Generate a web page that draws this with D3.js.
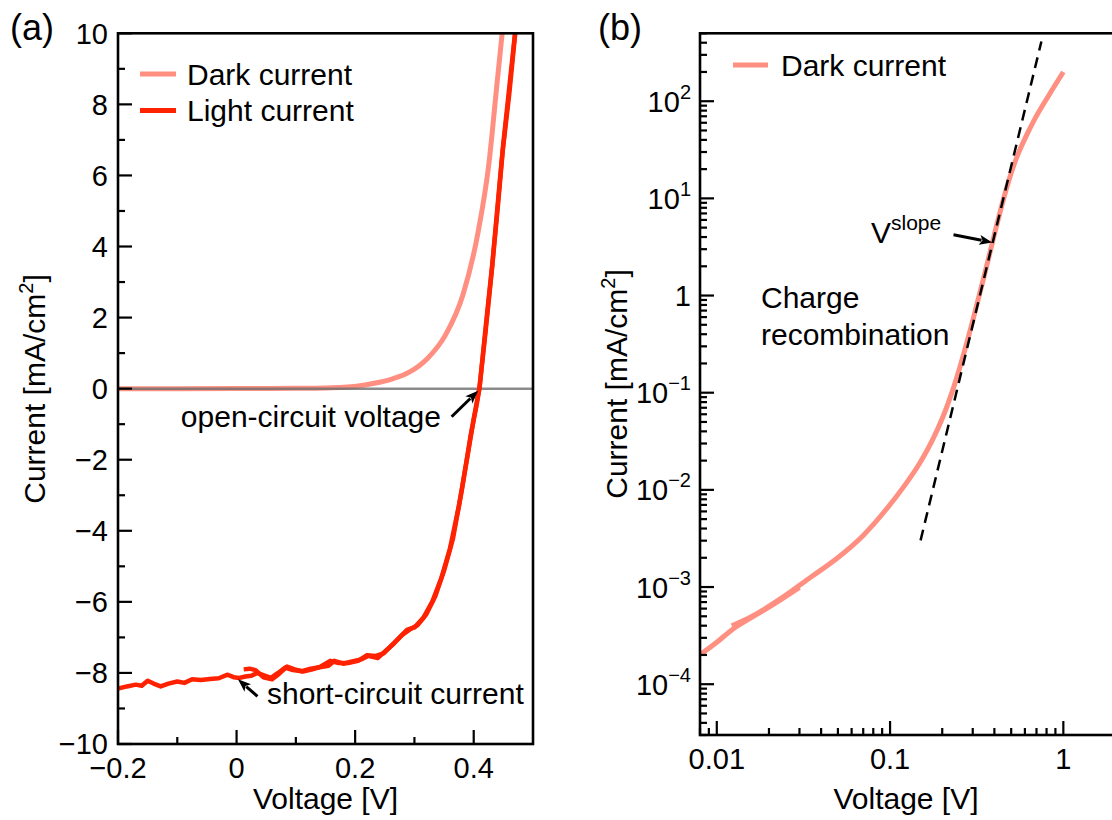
<!DOCTYPE html>
<html><head><meta charset="utf-8">
<script src="https://cdn.jsdelivr.net/npm/d3@7"></script>
<style>
body{margin:0;background:#fff}
text{font-family:"Liberation Sans",Arial,Helvetica,sans-serif;fill:#000}
</style>
</head><body>
<svg id="chart" width="1112" height="820"></svg>
<script>
// ---------------- data ----------------
// panel (a): linear J-V
const darkA = [[-0.2,0],[-0.1,0],[0,0.001],[0.05,0.003],[0.1,0.008],[0.15,0.02],[0.18,0.04],[0.202,0.07],[0.232,0.15],[0.262,0.27],[0.292,0.47],[0.322,0.85],[0.352,1.5],[0.382,2.65],[0.407,4.37],[0.425,6.25],[0.440,8.7],[0.448,10.0],[0.455,11.2]];
const lightA1 = [[-0.200,-8.44],[-0.185,-8.38],[-0.170,-8.33],[-0.160,-8.36],[-0.150,-8.22],[-0.140,-8.30],[-0.128,-8.38],[-0.115,-8.30],[-0.100,-8.24],[-0.088,-8.28],[-0.075,-8.18],[-0.060,-8.20],[-0.045,-8.17],[-0.030,-8.15],[-0.015,-8.05],[-0.005,-8.12],[0.005,-8.14],[0.015,-8.10],[0.025,-8.08],[0.035,-8.00],[0.045,-8.06],[0.058,-8.14],[0.070,-8.00],[0.082,-7.85],[0.095,-7.92],[0.110,-7.95],[0.125,-7.88],[0.140,-7.84],[0.155,-7.80],[0.165,-7.66],[0.180,-7.74],[0.195,-7.68],[0.210,-7.62],[0.222,-7.52],[0.238,-7.58],[0.250,-7.40],[0.265,-7.18],[0.280,-6.92],[0.292,-6.78],[0.305,-6.66],[0.320,-6.35],[0.335,-5.85],[0.350,-5.12],[0.365,-4.22],[0.380,-2.85],[0.395,-1.30],[0.405,-0.45],[0.4095,0],[0.420,1.6],[0.431,3.4],[0.440,5.0],[0.449,6.7],[0.460,8.3],[0.470,10.0],[0.476,11.0]];
const lightA2 = [[0.012,-7.90],[0.022,-7.88],[0.032,-7.92],[0.045,-8.12],[0.060,-8.18],[0.072,-8.02],[0.085,-7.82],[0.098,-7.90],[0.112,-7.96],[0.128,-7.90],[0.142,-7.82],[0.158,-7.66],[0.172,-7.72],[0.188,-7.72],[0.205,-7.66],[0.220,-7.50],[0.235,-7.52],[0.248,-7.45],[0.262,-7.22],[0.275,-7.00],[0.288,-6.78],[0.300,-6.72],[0.315,-6.45],[0.330,-6.00],[0.345,-5.35],[0.360,-4.50],[0.375,-3.30],[0.390,-1.85],[0.400,-0.85],[0.410,0.05],[0.420,1.7],[0.431,3.45],[0.449,6.75],[0.470,10.05],[0.476,11.0]];
// panel (b): log-log dark current (two sweeps)
const darkB1 = [[0.00806,2.03e-4],[0.0100,2.7e-4],[0.0122,3.62e-4],[0.016,4.9e-4],[0.020,6.2e-4],[0.030,9.9e-4]];
const darkB2 = [[0.0122,3.98e-4],[0.016,5.0e-4],[0.02455,8.05e-4],[0.035,1.27e-3],[0.0482,1.91e-3],[0.070,3.4e-3],[0.0946,6.24e-3],[0.120,1.08e-2],[0.1482,0.0188],[0.175,0.0321],[0.200,0.0542],[0.217,0.0791],[0.243,0.1445],[0.260,0.217],[0.300,0.552],[0.350,1.61],[0.400,4.25],[0.4554,10.4],[0.4984,17.9],[0.545,28.0],[0.610,43.7],[0.6825,65],[0.817,112],[1.0,200]];
const slopeFit = [[0.150,3.02e-3],[0.747,412]];
// ticks
const xTicksA = [-0.2,0,0.2,0.4];
const xTickLabelsA = ["\u22120.2","0","0.2","0.4"];
const xMinorA = [-0.1,0.1,0.3];
const yTicksA = [-10,-8,-6,-4,-2,0,2,4,6,8,10];
const yTickLabelsA = ["\u221210","\u22128","\u22126","\u22124","\u22122","0","2","4","6","8","10"];
const yMinorA = [-9,-7,-5,-3,-1,1,3,5,7,9];
const xTicksB = [0.01,0.1,1];
const xTickLabelsB = ["0.01","0.1","1"];
const yTicksB = [1e-4,1e-3,1e-2,1e-1,1,1e1,1e2];
const yTickBaseB = ["10","10","10","10","1","10","10"];
const yTickExpB = ["\u22124","\u22123","\u22122","\u22121","","1","2"];
const seriesNames = ["Dark current","Light current"];

// ---------------- layout ----------------
const darkColor = "#ff8f80", lightColor = "#ff2200";
const FS = 29, FT = 30;
const svg = d3.select("#chart");

const xA = d3.scaleLinear().domain([-0.2,0.5]).range([118,533]);
const yA = d3.scaleLinear().domain([-10,10]).range([744,33.3]);
const xB = d3.scaleLog().domain([0.008,2]).range([700,1115.5]);
const yB = d3.scaleLog().domain([3e-5,500]).range([735,33.3]);

const defs = svg.append("defs");
defs.append("clipPath").attr("id","clipA").append("rect")
  .attr("x",xA.range()[0]).attr("y",yA.range()[1]).attr("width",xA.range()[1]-xA.range()[0]).attr("height",yA.range()[0]-yA.range()[1]);
defs.append("clipPath").attr("id","clipB").append("rect")
  .attr("x",xB.range()[0]).attr("y",yB.range()[1]).attr("width",xB.range()[1]-xB.range()[0]).attr("height",yB.range()[0]-yB.range()[1]);

function arrow(g, x1,y1,x2,y2){
  const a = Math.atan2(y2-y1,x2-x1), L=13, hw=5;
  const bx = x2-L*Math.cos(a), by = y2-L*Math.sin(a);
  g.append("line").attr("x1",x1).attr("y1",y1).attr("x2",bx+2*Math.cos(a)).attr("y2",by+2*Math.sin(a))
    .attr("stroke","#000").attr("stroke-width",3);
  const p = [[bx+hw*Math.sin(a), by-hw*Math.cos(a)],[x2,y2],[bx-hw*Math.sin(a), by+hw*Math.cos(a)],[bx+3*Math.cos(a),by+3*Math.sin(a)]];
  g.append("path").attr("d",d3.line()(p)+"Z").attr("fill","#000");
}

// ================= panel (a) =================
const gA = svg.append("g");
const plotA = gA.append("g").attr("clip-path","url(#clipA)");
plotA.append("path").datum(darkA).attr("d",d3.line().x(d=>xA(d[0])).y(d=>yA(d[1])).curve(d3.curveMonotoneX))
  .attr("fill","none").attr("stroke",darkColor).attr("stroke-width",5);
plotA.append("line").attr("x1",xA(-0.2)).attr("x2",xA(0.5)).attr("y1",yA(0)).attr("y2",yA(0))
  .attr("stroke","#6e6e6e").attr("stroke-opacity",0.8).attr("stroke-width",2.5);
const lineAL = d3.line().x(d=>xA(d[0])).y(d=>yA(d[1]));
[lightA1,lightA2].forEach(s=>plotA.append("path").datum(s).attr("d",lineAL)
  .attr("fill","none").attr("stroke",lightColor).attr("stroke-width",4.5).attr("stroke-linejoin","round"));

// ticks
const tkA = gA.append("g").attr("stroke","#000").attr("stroke-width",2.2);
xTicksA.forEach(v=>tkA.append("line").attr("x1",xA(v)).attr("x2",xA(v)).attr("y1",yA(-10)).attr("y2",yA(-10)-14));
xMinorA.forEach(v=>tkA.append("line").attr("x1",xA(v)).attr("x2",xA(v)).attr("y1",yA(-10)).attr("y2",yA(-10)-7));
yTicksA.forEach(v=>tkA.append("line").attr("y1",yA(v)).attr("y2",yA(v)).attr("x1",xA(-0.2)).attr("x2",xA(-0.2)+14));
yMinorA.forEach(v=>tkA.append("line").attr("y1",yA(v)).attr("y2",yA(v)).attr("x1",xA(-0.2)).attr("x2",xA(-0.2)+7));
gA.append("rect").attr("x",xA(-0.2)).attr("y",yA(10)).attr("width",xA(0.5)-xA(-0.2)).attr("height",yA(-10)-yA(10))
  .attr("fill","none").attr("stroke","#000").attr("stroke-width",2.6);
xTicksA.forEach((v,i)=>gA.append("text").attr("x",xA(v)).attr("y",yA(-10)+34).attr("text-anchor","middle").attr("font-size",FS).text(xTickLabelsA[i]));
yTicksA.forEach((v,i)=>gA.append("text").attr("x",xA(-0.2)-10).attr("y",yA(v)).attr("dy","0.36em").attr("text-anchor","end").attr("font-size",FS).text(yTickLabelsA[i]));

gA.append("text").attr("x",(xA.range()[0]+xA.range()[1])/2).attr("y",809).attr("text-anchor","middle").attr("font-size",FT).text("Voltage [V]");
function yTitle(g,x,y){
  const t = g.append("text").attr("transform",`translate(${x},${y}) rotate(-90)`).attr("text-anchor","middle").attr("font-size",FT);
  t.append("tspan").text("Current [mA/cm");
  t.append("tspan").attr("font-size",20).attr("dy",-12).text("2");
  t.append("tspan").attr("dy",12).text("]");
}
yTitle(gA,45,389);
gA.append("text").attr("x",10).attr("y",40).attr("font-size",36).text("(a)");

// legend (a)
[darkColor,lightColor].forEach((c,i)=>{
  const yy = 74 + i*36.5;
  gA.append("line").attr("x1",140).attr("x2",176).attr("y1",yy).attr("y2",yy).attr("stroke",c).attr("stroke-width",5);
  gA.append("text").attr("x",187).attr("y",yy).attr("dy","0.36em").attr("font-size",FT).text(seriesNames[i]);
});
// annotations (a)
gA.append("text").attr("x",441).attr("y",427).attr("text-anchor","end").attr("font-size",FT).text("open-circuit voltage");
arrow(gA, xA(0.3627), yA(-0.79), xA(0.4075), yA(-0.06));
gA.append("text").attr("x",267).attr("y",704).attr("font-size",FT).text("short-circuit current");
arrow(gA, xA(0.0352), yA(-8.66), xA(0.0024), yA(-8.18));

// ================= panel (b) =================
const gB = svg.append("g");
const plotB = gB.append("g").attr("clip-path","url(#clipB)");
const lineB = d3.line().x(d=>xB(d[0])).y(d=>yB(d[1])).curve(d3.curveMonotoneX);
[darkB1,darkB2].forEach(s=>plotB.append("path").datum(s).attr("d",lineB)
  .attr("fill","none").attr("stroke",darkColor).attr("stroke-width",5));
plotB.append("path").datum(slopeFit).attr("d",d3.line().x(d=>xB(d[0])).y(d=>yB(d[1])))
  .attr("fill","none").attr("stroke","#000").attr("stroke-width",2.5).attr("stroke-dasharray","11,7");

const tkB = gB.append("g").attr("stroke","#000").attr("stroke-width",2.2);
const [bx0,bx1] = xB.domain(), [by0,by1] = yB.domain();
for(let e=-3;e<=1;e++) for(let m=1;m<=9;m++){
  const v = m*Math.pow(10,e);
  if(v<bx0||v>bx1) continue;
  tkB.append("line").attr("x1",xB(v)).attr("x2",xB(v)).attr("y1",yB(by0)).attr("y2",yB(by0)-(m===1?14:7));
}
for(let e=-5;e<=2;e++) for(let m=1;m<=9;m++){
  const v = m*Math.pow(10,e);
  if(v<by0*0.999||v>by1*1.001) continue;
  tkB.append("line").attr("y1",yB(v)).attr("y2",yB(v)).attr("x1",xB(bx0)).attr("x2",xB(bx0)+(m===1?14:7));
}
gB.append("rect").attr("x",xB(bx0)).attr("y",yB(by1)).attr("width",xB(bx1)-xB(bx0)).attr("height",yB(by0)-yB(by1))
  .attr("fill","none").attr("stroke","#000").attr("stroke-width",2.6);
xTicksB.forEach((v,i)=>gB.append("text").attr("x",xB(v)).attr("y",yB(by0)+34).attr("text-anchor","middle").attr("font-size",FS).text(xTickLabelsB[i]));
yTicksB.forEach((v,i)=>{
  const t = gB.append("text").attr("x",xB(bx0)-9).attr("y",yB(v)+10.5).attr("text-anchor","end").attr("font-size",FS);
  t.append("tspan").text(yTickBaseB[i]);
  if(yTickExpB[i]) t.append("tspan").attr("font-size",20).attr("dy",-13).text(yTickExpB[i]);
});
gB.append("text").attr("x",906).attr("y",809).attr("text-anchor","middle").attr("font-size",FT).text("Voltage [V]");
yTitle(gB,627,384);
gB.append("text").attr("x",598).attr("y",40).attr("font-size",36).text("(b)");

// legend (b)
gB.append("line").attr("x1",733).attr("x2",768).attr("y1",65).attr("y2",65).attr("stroke",darkColor).attr("stroke-width",5);
gB.append("text").attr("x",781).attr("y",65).attr("dy","0.36em").attr("font-size",FT).text(seriesNames[0]);

// annotations (b)
const vs = gB.append("text").attr("x",871).attr("y",243).attr("font-size",FT);
vs.append("tspan").text("V");
vs.append("tspan").attr("font-size",21).attr("dy",-13).text("slope");
arrow(gB, xB(0.2323), yB(4.23), xB(0.389), yB(3.52));
gB.append("text").attr("x",761).attr("y",308).attr("font-size",FT).text("Charge");
gB.append("text").attr("x",761).attr("y",345).attr("font-size",FT).text("recombination");
</script>
</body></html>
